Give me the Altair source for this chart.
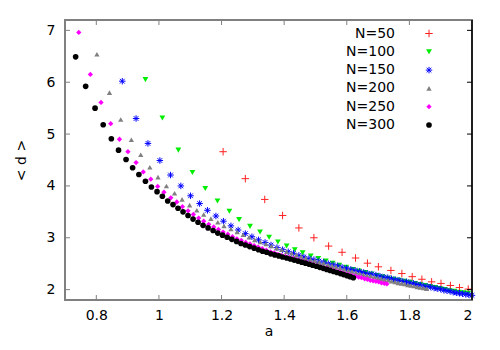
import altair as alt
import pandas as pd

# ---------------- data ----------------
names = ["N=50", "N=100", "N=150", "N=200", "N=250", "N=300"]

a50 = [1.205, 1.276, 1.338, 1.395, 1.447, 1.495, 1.542, 1.585, 1.628, 1.666,
       1.701, 1.741, 1.776, 1.809, 1.840, 1.871, 1.901, 1.931, 1.960, 1.988]
d50 = [4.66, 4.14, 3.74, 3.43, 3.19, 3.00, 2.84, 2.72, 2.61, 2.51,
       2.44, 2.37, 2.31, 2.25, 2.20, 2.15, 2.12, 2.08, 2.04, 2.01]

a100 = [0.957, 1.011, 1.062, 1.107, 1.148, 1.187, 1.225, 1.256, 1.291, 1.323,
        1.352, 1.380, 1.408, 1.434, 1.459, 1.485, 1.509, 1.533, 1.555, 1.576,
        1.598, 1.619, 1.638, 1.659, 1.678, 1.696, 1.714, 1.732, 1.750, 1.767,
        1.784, 1.801, 1.818, 1.834, 1.850, 1.866, 1.882, 1.898, 1.913, 1.928,
        1.943, 1.958, 1.973, 1.988]
d100 = [6.05, 5.31, 4.69, 4.26, 3.95, 3.71, 3.51, 3.35, 3.22, 3.11,
        3.01, 2.92, 2.84, 2.77, 2.71, 2.65, 2.60, 2.55, 2.51, 2.47,
        2.43, 2.39, 2.36, 2.33, 2.30, 2.27, 2.25, 2.22, 2.20, 2.18,
        2.16, 2.14, 2.12, 2.10, 2.08, 2.06, 2.04, 2.02, 2.00, 1.98,
        1.97, 1.95, 1.94, 1.93]

a150 = [0.883, 0.927, 0.965, 1.003, 1.037, 1.070, 1.101, 1.130, 1.155, 1.182,
        1.206, 1.230, 1.253, 1.276, 1.297, 1.318, 1.339, 1.358, 1.377, 1.395,
        1.413, 1.430, 1.447, 1.463, 1.479, 1.495, 1.511, 1.526, 1.541, 1.556,
        1.571, 1.585, 1.599, 1.613, 1.627, 1.641, 1.654, 1.667, 1.680, 1.693,
        1.706, 1.719, 1.731, 1.743, 1.755, 1.767, 1.779, 1.791, 1.802, 1.813,
        1.824, 1.835, 1.846, 1.857, 1.868, 1.879, 1.889, 1.900, 1.910, 1.920,
        1.930, 1.940, 1.950, 1.960, 1.970, 1.980, 1.990, 2.000]
d150 = [6.02, 5.30, 4.82, 4.49, 4.21, 4.00, 3.81, 3.66, 3.53, 3.42,
        3.32, 3.23, 3.15, 3.08, 3.02, 2.96, 2.91, 2.86, 2.81, 2.77,
        2.73, 2.70, 2.66, 2.63, 2.60, 2.58, 2.55, 2.53, 2.50, 2.48,
        2.46, 2.43, 2.41, 2.39, 2.37, 2.35, 2.33, 2.31, 2.30, 2.28,
        2.26, 2.24, 2.23, 2.21, 2.19, 2.18, 2.16, 2.15, 2.13, 2.12,
        2.10, 2.09, 2.07, 2.06, 2.05, 2.03, 2.02, 2.01, 1.99, 1.98,
        1.97, 1.95, 1.94, 1.93, 1.92, 1.91, 1.90, 1.89]

a200 = [0.802, 0.842, 0.878, 0.912, 0.942, 0.971, 0.997, 1.024, 1.050, 1.074,
        1.098, 1.121, 1.143, 1.166, 1.188, 1.208, 1.230, 1.250, 1.269, 1.288,
        1.306, 1.324, 1.342, 1.359, 1.376, 1.392, 1.408, 1.424, 1.439, 1.454,
        1.469, 1.484, 1.498, 1.512, 1.526, 1.540, 1.553, 1.566, 1.579, 1.592,
        1.605, 1.617, 1.629, 1.641, 1.653, 1.665, 1.677, 1.688, 1.699, 1.710,
        1.721, 1.732, 1.743, 1.754, 1.764, 1.775, 1.785, 1.795, 1.805, 1.815,
        1.825, 1.835, 1.845, 1.855]
d200 = [6.54, 5.80, 5.28, 4.89, 4.60, 4.36, 4.17, 4.00, 3.86, 3.74,
        3.63, 3.53, 3.45, 3.37, 3.30, 3.23, 3.17, 3.11, 3.06, 3.01,
        2.96, 2.92, 2.88, 2.84, 2.80, 2.77, 2.73, 2.70, 2.67, 2.64,
        2.61, 2.58, 2.56, 2.53, 2.51, 2.48, 2.46, 2.44, 2.42, 2.39,
        2.37, 2.35, 2.33, 2.31, 2.29, 2.27, 2.26, 2.24, 2.22, 2.21,
        2.19, 2.18, 2.16, 2.15, 2.13, 2.12, 2.11, 2.09, 2.08, 2.07,
        2.05, 2.04, 2.03, 2.02]

a250 = [0.744, 0.781, 0.815, 0.846, 0.874, 0.901, 0.927, 0.950, 0.974, 0.996,
        1.016, 1.038, 1.057, 1.075, 1.093, 1.110, 1.127, 1.143, 1.159, 1.175,
        1.190, 1.205, 1.220, 1.235, 1.249, 1.263, 1.277, 1.291, 1.304, 1.317,
        1.330, 1.343, 1.356, 1.368, 1.380, 1.392, 1.404, 1.416, 1.428, 1.440,
        1.451, 1.462, 1.473, 1.484, 1.495, 1.506, 1.517, 1.527, 1.537, 1.548,
        1.558, 1.568, 1.578, 1.588, 1.598, 1.608, 1.618, 1.628, 1.638, 1.647,
        1.657, 1.666, 1.675, 1.684, 1.693, 1.702, 1.711, 1.720, 1.728]
d250 = [6.96, 6.15, 5.61, 5.20, 4.90, 4.66, 4.45, 4.27, 4.13, 3.99,
        3.88, 3.77, 3.69, 3.60, 3.52, 3.45, 3.38, 3.32, 3.26, 3.21,
        3.16, 3.11, 3.07, 3.02, 2.98, 2.95, 2.91, 2.88, 2.85, 2.82,
        2.79, 2.76, 2.73, 2.71, 2.68, 2.66, 2.64, 2.62, 2.60, 2.58,
        2.56, 2.54, 2.52, 2.50, 2.48, 2.46, 2.44, 2.42, 2.41, 2.39,
        2.37, 2.35, 2.34, 2.32, 2.30, 2.29, 2.27, 2.26, 2.24, 2.23,
        2.21, 2.20, 2.18, 2.17, 2.16, 2.15, 2.13, 2.12, 2.11]

a300 = [0.734, 0.766, 0.796, 0.822, 0.848, 0.871, 0.895, 0.916, 0.936, 0.957,
        0.976, 0.994, 1.011, 1.028, 1.045, 1.061, 1.077, 1.093, 1.109, 1.125,
        1.141, 1.157, 1.173, 1.188, 1.203, 1.218, 1.233, 1.248, 1.262, 1.276,
        1.290, 1.304, 1.318, 1.331, 1.344, 1.357, 1.370, 1.383, 1.395, 1.408,
        1.420, 1.432, 1.444, 1.456, 1.468, 1.480, 1.491, 1.503, 1.514, 1.525,
        1.536, 1.547, 1.558, 1.569, 1.580, 1.590, 1.601, 1.611, 1.621]
d300 = [6.49, 5.92, 5.50, 5.18, 4.91, 4.69, 4.51, 4.35, 4.22, 4.09,
        3.98, 3.89, 3.80, 3.71, 3.64, 3.57, 3.50, 3.43, 3.36, 3.30,
        3.24, 3.19, 3.14, 3.09, 3.05, 3.01, 2.97, 2.93, 2.89, 2.86,
        2.83, 2.80, 2.77, 2.74, 2.72, 2.69, 2.67, 2.65, 2.63, 2.61,
        2.59, 2.57, 2.55, 2.53, 2.51, 2.49, 2.47, 2.45, 2.43, 2.41,
        2.39, 2.37, 2.35, 2.33, 2.31, 2.29, 2.27, 2.25, 2.23]

x_ticks = [0.8, 1.0, 1.2, 1.4, 1.6, 1.8, 2.0]
y_ticks = [2, 3, 4, 5, 6, 7]

# ---------------- styles ----------------
W, H = 407, 280
FONT = "DejaVu Sans"
FS = 14
GRAY = "#808080"
PLUS = "M-1,0L1,0M0,-1L0,1"
STAR = "M-1,0L1,0M0,-1L0,1M-0.72,-0.72L0.72,0.72M-0.72,0.72L0.72,-0.72"

styles = [
    dict(shape=PLUS, filled=False, color="#ff2020", size=56, strokeWidth=1),
    dict(shape="triangle-down", filled=True, color="#00ee00", size=34),
    dict(shape=STAR, filled=False, color="#0000ff", size=42, strokeWidth=1),
    dict(shape="triangle-up", filled=True, color="#808080", size=28),
    dict(shape="diamond", filled=True, color="#ff00ff", size=28),
    dict(shape="circle", filled=True, color="#000000", size=32),
]
series_a = [a50, a100, a150, a200, a250, a300]
series_d = [d50, d100, d150, d200, d250, d300]

xscale = alt.Scale(domain=[0.7, 2.0], nice=False, zero=False)
yscale = alt.Scale(domain=[1.8, 7.2], nice=False, zero=False)

x_axis = alt.Axis(values=x_ticks, format="~g", title="a", tickSize=0, domain=False,
                  grid=False, labelFont=FONT, labelFontSize=FS, labelPadding=8,
                  labelColor="black", titleFont=FONT, titleFontSize=FS,
                  titleFontWeight="normal", titlePadding=2, titleColor="black")
y_axis = alt.Axis(values=y_ticks, format="d", title="< d >", tickSize=0, domain=False,
                  grid=False, labelFont=FONT, labelFontSize=FS, labelPadding=10,
                  labelColor="black", titleFont=FONT, titleFontSize=FS,
                  titleFontWeight="normal", titlePadding=18, titleColor="black")

layers = []
for name, aa, dd, st in zip(names, series_a, series_d, styles):
    df = pd.DataFrame({"a": aa, "d": dd})
    layers.append(alt.Chart(df).mark_point(opacity=1, **st).encode(
        x=alt.X("a:Q", scale=xscale, axis=x_axis),
        y=alt.Y("d:Q", scale=yscale, axis=y_axis)))

# mirror ticks (inward), drawn from the tick value lists through the scales
xt = pd.DataFrame({"a": x_ticks})
yt = pd.DataFrame({"d": y_ticks})
TL = 5
tx = alt.X("a:Q", scale=xscale, axis=x_axis)
ty = alt.Y("d:Q", scale=yscale, axis=y_axis)
layers += [
    alt.Chart(xt).mark_rule(color=GRAY, strokeWidth=1).encode(x=tx, y=alt.value(H), y2=alt.value(H - TL)),
    alt.Chart(xt).mark_rule(color=GRAY, strokeWidth=1).encode(x=tx, y=alt.value(0), y2=alt.value(TL)),
    alt.Chart(yt).mark_rule(color=GRAY, strokeWidth=1).encode(y=ty, x=alt.value(0), x2=alt.value(TL)),
    alt.Chart(yt).mark_rule(color="black", strokeWidth=1).encode(y=ty, x=alt.value(W), x2=alt.value(W - TL)),
    alt.Chart(xt.head(1)).mark_rule(color="black", strokeWidth=1.5).encode(
        x=alt.value(W), y=alt.value(0), y2=alt.value(H)),
]

# legend (label on the left, symbol on the right, as in the reference)
LEG_TEXT_X, LEG_SYM_X, LEG_Y0, LEG_DY = 330, 364, 13.5, 18.3
for i, (name, st) in enumerate(zip(names, styles)):
    row = pd.DataFrame({"label": [name]})
    yy = LEG_Y0 + i * LEG_DY
    layers.append(alt.Chart(row).mark_text(align="right", baseline="middle", font=FONT,
                                           fontSize=FS, color="black").encode(
        x=alt.value(LEG_TEXT_X), y=alt.value(yy), text="label:N"))
    layers.append(alt.Chart(row).mark_point(opacity=1, **st).encode(
        x=alt.value(LEG_SYM_X), y=alt.value(yy)))

chart = alt.layer(*layers).properties(
    width=W, height=H,
    autosize=alt.AutoSizeParams(type="none"),
    padding={"left": 57, "top": 12, "right": 20, "bottom": 40},
).configure_view(stroke=GRAY, strokeWidth=2)

chart.save("out.html", embed_options={"renderer": "svg", "actions": False})
